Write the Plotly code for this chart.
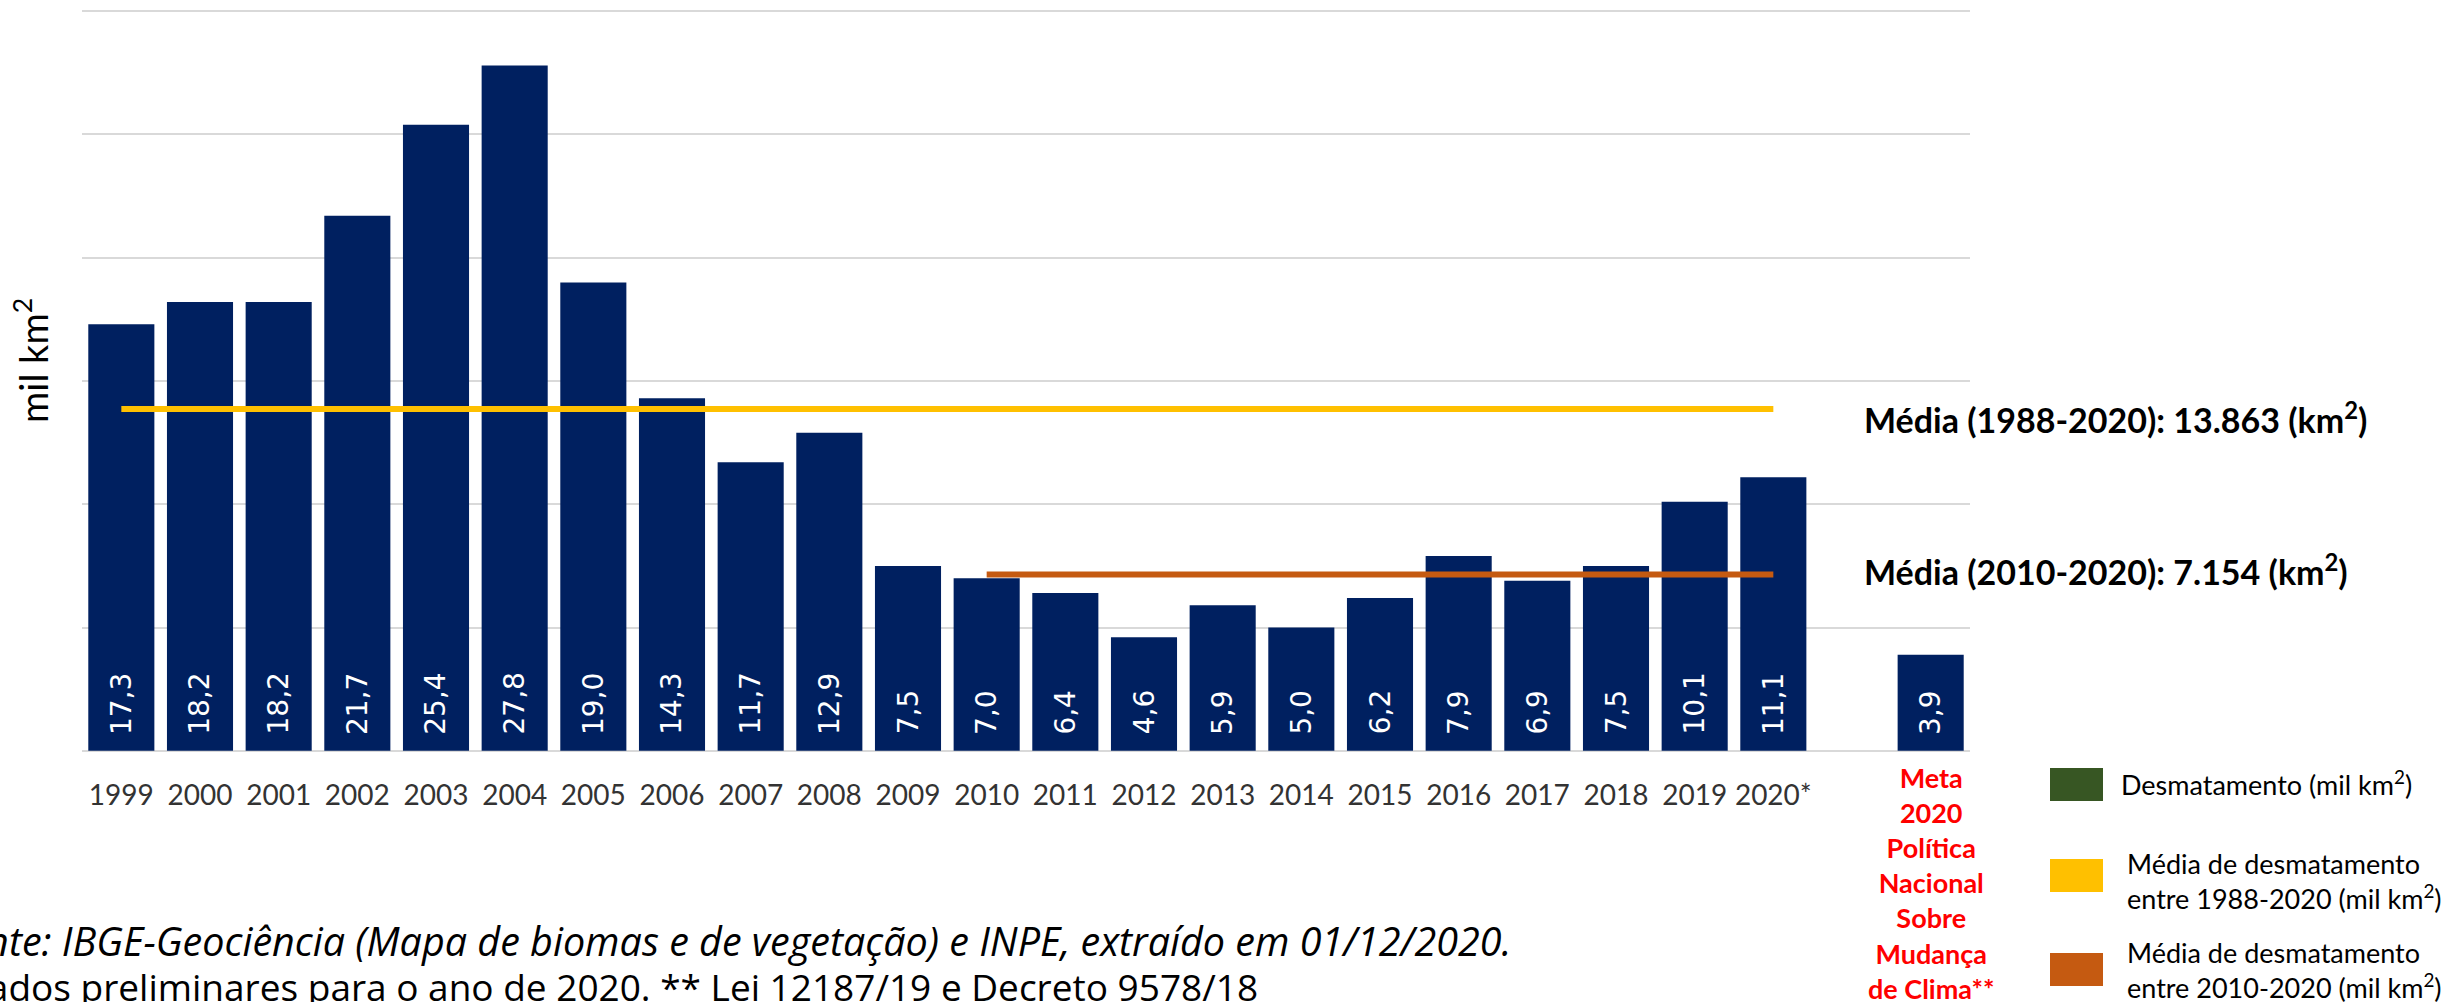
import plotly.graph_objects as go

# dados (mil km2)
anos = ["1999", "2000", "2001", "2002", "2003", "2004", "2005", "2006", "2007", "2008", "2009",
        "2010", "2011", "2012", "2013", "2014", "2015", "2016", "2017", "2018", "2019", "2020*"]
desmatamento = [17.3, 18.2, 18.2, 21.7, 25.4, 27.8, 19.0, 14.3, 11.7, 12.9, 7.5,
                7.0, 6.4, 4.6, 5.9, 5.0, 6.2, 7.9, 6.9, 7.5, 10.1, 11.1]
meta_cat = "Meta"
meta_valor = 3.9
media_1988_2020 = 13.863
media_2010_2020 = 7.154

categorias = anos + ["gap", meta_cat]
ticktext = anos + ["", ""]
valores = desmatamento + [None, meta_valor]

W, H = 2446, 1002
L, R, T, B = 82, 476, 10, 250
PW, PH = W - L - R, H - T - B


def px(x):
    return (x - L) / PW


def py(y):
    return (H - B - y) / PH


AZUL = "#002060"
AMARELO = "#FFC000"
LARANJA = "#C55A11"
VERDE = "#375623"
CALIBRI = "Lato"

fig = go.Figure()
fig.add_trace(go.Bar(x=categorias, y=valores, marker=dict(color=AZUL, line=dict(width=0)),
                     showlegend=False, hoverinfo="x+y"))
fig.add_trace(go.Scatter(x=[anos[0], anos[-1]], y=[media_1988_2020] * 2, mode="lines",
                         line=dict(color=AMARELO, width=6), showlegend=False))
fig.add_trace(go.Scatter(x=["2010", anos[-1]], y=[media_2010_2020] * 2, mode="lines",
                         line=dict(color=LARANJA, width=6), showlegend=False))

anns = []
# rótulos das barras (x = índice da categoria, pois "1999" seria lido como número)
for i, v in enumerate(valores):
    if v is None:
        continue
    anns.append(dict(x=i, y=0, xref="x", yref="y", text=f"{v:.1f}".replace(".", ","),
                     textangle=-90, showarrow=False, yanchor="bottom", xanchor="center",
                     yshift=14, font=dict(family="DejaVu Sans", size=28, color="white")))

# meta
anns.append(dict(x=categorias.index(meta_cat), y=0, xref="x", yref="y",
                 text="<b>Meta<br>2020<br>Política<br>Nacional<br>Sobre<br>Mudança<br>de Clima**</b>",
                 showarrow=False, yanchor="top", xanchor="center", yshift=-8,
                 font=dict(family=CALIBRI, size=27, color="#FF0000")))

# médias
anns.append(dict(x=px(1862), y=media_1988_2020, xref="paper", yref="y", yshift=-9,
                 text="<b>Média (1988-2020): 13.863 (km<sup>2</sup>)</b>", showarrow=False,
                 xanchor="left", yanchor="middle", font=dict(family=CALIBRI, size=34, color="black")))
anns.append(dict(x=px(1862), y=media_2010_2020, xref="paper", yref="y", yshift=4,
                 text="<b>Média (2010-2020): 7.154 (km<sup>2</sup>)</b>", showarrow=False,
                 xanchor="left", yanchor="middle", font=dict(family=CALIBRI, size=34, color="black")))

# título do eixo y
anns.append(dict(x=px(31), y=py(361), xref="paper", yref="paper", text="mil km<sup>2</sup>",
                 textangle=-90, showarrow=False, xanchor="center", yanchor="middle",
                 font=dict(family=CALIBRI, size=38, color="black")))

# legenda
leg = [(VERDE, 768, "Desmatamento (mil km<sup>2</sup>)", 2119, 783),
       (AMARELO, 859, "Média de desmatamento<br>entre 1988-2020 (mil km<sup>2</sup>)", 2125, 881),
       (LARANJA, 953, "Média de desmatamento<br>entre 2010-2020 (mil km<sup>2</sup>)", 2125, 970)]
shapes = []
for cor, y0, txt, tx, ty in leg:
    shapes.append(dict(type="rect", xref="paper", yref="paper", x0=px(2050), x1=px(2103),
                       y0=py(y0 + 33), y1=py(y0), fillcolor=cor, line=dict(width=0)))
    anns.append(dict(x=px(tx), y=py(ty), xref="paper", yref="paper", text=txt, showarrow=False,
                     xanchor="left", yanchor="middle", align="left",
                     font=dict(family=CALIBRI, size=27, color="black")))

# fonte
anns.append(dict(x=px(1513), y=py(941), xref="paper", yref="paper",
                 text="<i>Fonte: IBGE-Geociência (Mapa de biomas e de vegetação) e INPE, extraído em 01/12/2020.</i>",
                 showarrow=False, xanchor="right", yanchor="middle",
                 font=dict(family="Open Sans", size=39.5, color="black")))
anns.append(dict(x=px(1260), y=py(986), xref="paper", yref="paper",
                 text="* Dados preliminares para o ano de 2020. ** Lei 12187/19 e Decreto 9578/18",
                 showarrow=False, xanchor="right", yanchor="middle",
                 font=dict(family="Open Sans", size=37, color="black")))

fig.update_layout(
    width=W, height=H, margin=dict(l=L, r=R, t=T, b=B),
    plot_bgcolor="white", paper_bgcolor="white", bargap=0.16,
    annotations=anns, shapes=shapes, showlegend=False,
    font=dict(family=CALIBRI, color="#333333"),
)
fig.update_xaxes(type="category", categoryorder="array", categoryarray=categorias,
                 range=[-0.5, len(categorias) - 0.5], autorange=False,
                 tickvals=categorias, ticktext=ticktext, ticks="", showline=False, showgrid=False,
                 tickfont=dict(family=CALIBRI, size=28, color="#333333"), ticklabelstandoff=24)
fig.update_yaxes(range=[-0.05, 30.05], autorange=False, dtick=5, showticklabels=False,
                 gridcolor="#D9D9D9", gridwidth=2, zeroline=False, showline=False)

fig.write_html("out.html", config={"displayModeBar": False},
               post_script="document.body.style.margin='0';")
